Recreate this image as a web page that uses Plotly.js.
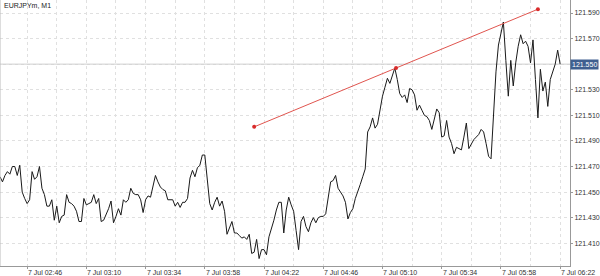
<!DOCTYPE html>
<html>
<head>
<meta charset="utf-8">
<script src="https://cdn.plot.ly/plotly-3.0.1.min.js"></script>
<style>html,body{margin:0;padding:0;background:#fff;}#chart{width:600px;height:276px;}</style>
</head>
<body>
<div id="chart"></div>
<script>
// Minute bars of EURJPYm (M1), 7 Jul, starting 02:35, one value per minute
const closePrices = [
  121.462,121.458,121.463,121.466,121.464,121.470,121.470,121.463,121.471,121.450,
  121.445,121.441,121.444,121.466,121.460,121.462,121.470,121.453,121.448,121.439,
  121.439,121.444,121.428,121.439,121.426,121.431,121.432,121.448,121.442,121.441,
  121.439,121.435,121.427,121.427,121.445,121.440,121.441,121.442,121.448,121.441,
  121.445,121.427,121.428,121.432,121.437,121.443,121.426,121.431,121.437,121.432,
  121.444,121.442,121.444,121.453,121.449,121.448,121.448,121.444,121.434,121.444,
  121.447,121.446,121.456,121.463,121.458,121.454,121.452,121.451,121.444,121.444,
  121.444,121.439,121.442,121.438,121.442,121.442,121.445,121.461,121.467,121.462,
  121.469,
  121.471,121.479,121.479,121.462,121.441,121.436,121.442,121.446,121.439,121.443,
  121.435,121.417,121.422,121.427,121.418,121.418,121.416,121.414,121.415,121.413,
  121.417,121.402,121.403,121.413,121.398,121.405,121.405,121.401,121.415,121.421,
  121.428,121.436,121.442,121.442,121.418,121.436,121.446,121.440,121.435,121.420,
  121.405,121.427,121.431,121.423,121.419,121.426,121.430,121.426,121.430,121.431,
  121.431,121.433,121.444,121.458,121.459,121.463,121.453,121.450,121.447,121.442,
  121.429,121.434,
  121.437,121.445,121.450,121.456,121.462,
  121.468,121.497,121.501,121.508,121.500,121.503,121.514,121.525,121.532,121.539,
  121.535,121.542,121.547,121.538,121.527,121.524,121.526,121.520,121.531,121.530,
  121.526,121.514,121.518,121.514,121.510,121.509,121.506,121.499,121.506,121.515,
  121.512,121.493,121.494,121.506,121.493,121.488,121.480,121.485,121.484,121.483,
  121.493,121.504,121.484,121.488,121.491,121.493,121.495,121.499,121.497,121.488,
  121.478,121.476,121.514,121.544,121.565,121.573,121.583,
  121.553,121.525,121.553,121.533,121.551,121.564,121.573,121.566,121.568,121.564,
  121.551,121.569,121.538,121.508,121.546,121.529,121.536,121.517,121.538,121.544,
  121.550,121.561,121.550
];

// Trend line anchors: [minute index from 02:35, price]
const trendStart = [103, 121.501];
const trendEnd = [218, 121.593];

// Axis ticks
const yTicks = [121.410,121.430,121.450,121.470,121.490,121.510,121.530,121.550,121.570,121.590];
const xTickIdx = [11,35,59,83,107,131,155,179,203,227];
const xTickText = ["7 Jul 02:46","7 Jul 03:10","7 Jul 03:34","7 Jul 03:58","7 Jul 04:22",
                   "7 Jul 04:46","7 Jul 05:10","7 Jul 05:34","7 Jul 05:58","7 Jul 06:22"];
const symbolTitle = "EURJPYm, M1";

const xs = closePrices.map((_, i) => i);
const lastPrice = closePrices[closePrices.length - 1];
const midTrend = [(trendStart[0] + trendEnd[0]) / 2, (trendStart[1] + trendEnd[1]) / 2];

const FONT = "Liberation Sans, Arial, sans-serif";
const FS = 7;
const TXT = '#333333';

const traces = [
  {
    x: xs, y: closePrices, type: 'scatter', mode: 'lines',
    line: {color: '#1a1a1a', width: 1}, hoverinfo: 'skip'
  },
  {
    x: [trendStart[0], trendEnd[0]], y: [trendStart[1], trendEnd[1]],
    type: 'scatter', mode: 'lines', line: {color: '#e0554f', width: 1}, hoverinfo: 'skip'
  },
  {
    x: [trendStart[0], midTrend[0], trendEnd[0]], y: [trendStart[1], midTrend[1], trendEnd[1]],
    type: 'scatter', mode: 'markers', marker: {color: '#d92b2b', size: 4}, hoverinfo: 'skip'
  }
];

const xLabelAnns = xTickIdx.map((v, k) => ({
  text: xTickText[k], xref: 'x', yref: 'paper', x: v, y: 0,
  xanchor: 'left', yanchor: 'top', xshift: -1, yshift: -1, showarrow: false,
  font: {family: FONT, size: FS, color: TXT}
}));

const layout = {
  width: 600, height: 276,
  margin: {l: 0, r: 30, t: 0, b: 10, pad: 0},
  paper_bgcolor: '#ffffff', plot_bgcolor: '#ffffff',
  showlegend: false,
  font: {family: FONT, size: FS, color: TXT},
  xaxis: {
    range: [0, 231], zeroline: false,
    tickmode: 'array', tickvals: xTickIdx, showticklabels: false,
    ticks: 'outside', ticklen: 2, tickcolor: '#999999',
    showgrid: true, gridcolor: '#e0e0e0', griddash: 'dot', gridwidth: 1,
    minor: {tickmode: 'linear', tick0: -1, dtick: 12, showgrid: true, gridcolor: '#e0e0e0', griddash: 'dot', gridwidth: 1},
    showline: true, linecolor: '#999999', linewidth: 1,
    fixedrange: true
  },
  yaxis: {
    side: 'right', range: [121.3922, 121.6002], zeroline: false,
    tickmode: 'array', tickvals: yTicks,
    ticktext: yTicks.map(v => (Math.abs(v - lastPrice) < 0.005 ? '' : v.toFixed(3))),
    ticks: 'outside', ticklen: 2, tickcolor: '#999999',
    showgrid: true, gridcolor: '#e0e0e0', griddash: 'dot', gridwidth: 1,
    showline: true, linecolor: '#999999', linewidth: 1,
    tickfont: {family: FONT, size: FS, color: TXT},
    fixedrange: true
  },
  shapes: [
    {type: 'line', xref: 'paper', yref: 'paper', x0: 0, x1: 0, y0: 0, y1: 1,
     line: {color: '#bbbbbb', width: 1}},
    {type: 'line', xref: 'paper', yref: 'y', x0: 0, x1: 1, y0: lastPrice, y1: lastPrice,
     line: {color: '#c4c4c4', width: 1}, layer: 'below'}
  ],
  annotations: [
    {text: symbolTitle, xref: 'paper', yref: 'paper', x: 0, y: 1, xanchor: 'left', yanchor: 'top',
     xshift: 2, yshift: 0, showarrow: false, font: {family: FONT, size: FS, color: '#222222'}},
    {text: lastPrice.toFixed(3), xref: 'paper', yref: 'y', x: 1, y: lastPrice, xanchor: 'left', yanchor: 'middle',
     xshift: 0, showarrow: false, bgcolor: '#3f5f8f', borderpad: 1,
     font: {family: FONT, size: FS, color: '#ffffff'}}
  ].concat(xLabelAnns)
};

Plotly.newPlot('chart', traces, layout, {staticPlot: true, displayModeBar: false});
</script>
</body>
</html>
